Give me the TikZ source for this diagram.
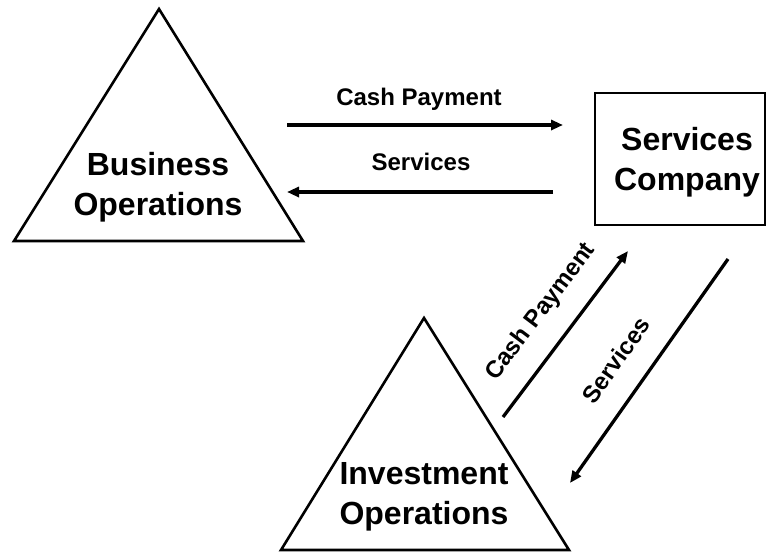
\documentclass[tikz,border=0pt]{standalone}
\usepackage{fontspec}
\setmainfont{Liberation Sans}
\usetikzlibrary{arrows.meta}
\begin{document}
\begin{tikzpicture}[x=1pt,y=-1pt,
  shape line/.style={line width=2.6pt, line join=miter},
  flow/.style={line width=3.3pt, -{Triangle[length=12pt,width=10pt]}},
  bigtext/.style={font=\bfseries\fontsize{32}{40}\selectfont, align=center, inner sep=0pt},
  smalltext/.style={font=\bfseries\fontsize{24}{28}\selectfont, inner sep=0pt}]
\useasboundingbox (0,0) rectangle (769,552);
% Business Operations triangle
\coordinate (bA) at (159,9);
\coordinate (bL) at (14,241);
\coordinate (bR) at (303,241);
\draw[shape line] (bA) -- (bR) -- (bL) -- cycle;
\node[bigtext] (bus) at (158,187) {Business\\Operations};
% Investment Operations triangle
\coordinate (iA) at (424,318);
\coordinate (iL) at (281,550);
\coordinate (iR) at (569,550);
\draw[shape line] (iA) -- (iR) -- (iL) -- cycle;
\node[bigtext] (inv) at (424,497) {Investment\\Operations};
% Services Company box
\node[draw, line width=2.8pt, minimum width=170pt, minimum height=132pt, inner sep=0pt] (box) at (680,159) {};
\node[bigtext] (svc) at (687,162) {Services\\Company};
% horizontal arrows
\coordinate (h1s) at (287,125);
\coordinate (h1e) at (563,125);
\coordinate (h2s) at (553,192);
\coordinate (h2e) at (287,192);
\draw[flow] (h1s) -- (h1e);
\draw[flow] (h2s) -- (h2e);
\node[smalltext, anchor=base] (l1) at (419,105) {Cash Payment};
\node[smalltext, anchor=base] (l2) at (421,170) {Services};
% diagonal arrows
\coordinate (d1s) at (503,417);
\coordinate (d1e) at (628,251);
\coordinate (d2s) at (728,259);
\coordinate (d2e) at (570,483);
\draw[flow] (d1s) -- (d1e);
\draw[flow] (d2s) -- (d2e);
\node[smalltext, rotate=53] (l3) at (541,312) {Cash Payment};
\node[smalltext, rotate=55] (l4) at (616,360) {Services};
\end{tikzpicture}
\end{document}
